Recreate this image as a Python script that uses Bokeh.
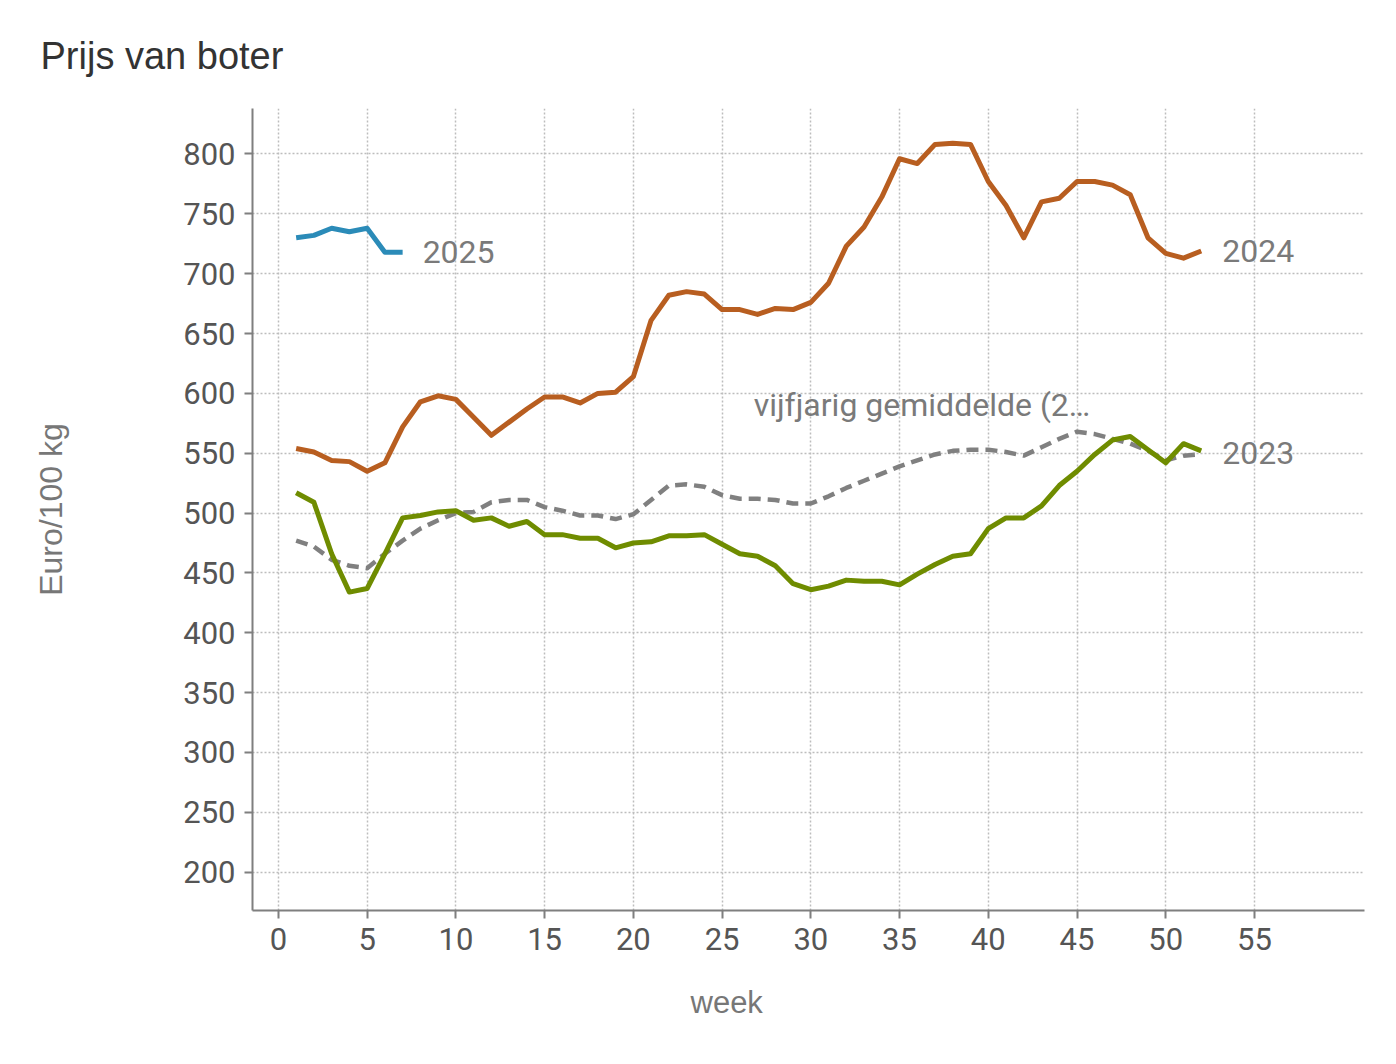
from bokeh.plotting import figure
from bokeh.models import Range1d, FixedTicker, Label, Title, LinearAxis
from bokeh.embed import file_html
from bokeh.resources import INLINE

# ---- data ----
weeks = list(range(1, 53))
weeks_2025 = list(range(1, 8))
prijs_2023 = [517, 509, 466, 434, 437, 466, 496, 498, 501, 502, 494, 496, 489, 493, 482, 482,
              479, 479, 471, 475, 476, 481, 481, 482, 474, 466, 464, 456, 441, 436, 439, 444,
              443, 443, 440, 449, 457, 464, 466, 487, 496, 496, 506, 523, 535, 549, 561, 564,
              553, 542, 558, 552]
prijs_2024 = [554, 551, 544, 543, 535, 542, 572, 593, 598, 595, 580, 565, 576, 587, 597, 597,
              592, 600, 601, 614, 661, 682, 685, 683, 670, 670, 666, 671, 670, 676, 692, 723,
              739, 764, 796, 792, 808, 809, 808, 777, 757, 730, 760, 763, 777, 777, 774, 766,
              730, 717, 713, 719]
prijs_2025 = [730, 732, 738, 735, 738, 718, 718]
gemiddelde = [477, 472, 461, 456, 454, 466, 477, 487, 494, 500, 501, 509, 511, 511, 505, 502,
              498, 498, 495, 499, 511, 523, 524, 522, 515, 512, 512, 511, 508, 508, 514, 521,
              527, 533, 539, 544, 549, 552, 553, 553, 551, 548, 555, 562, 568, 566, 562, 558,
              552, 544, 548, 549]
x_ticks = list(range(0, 60, 5))
y_ticks = list(range(200, 850, 50))
title_text = "Prijs van boter"
x_label = "week"
y_label = "Euro/100 kg"
avg_label = "vijfjarig gemiddelde (2\u2026"

# ---- styles ----
C2023 = "#6f8c00"
C2024 = "#b85e20"
C2025 = "#2b8bb8"
CAVG = "#808080"
LABEL_GRAY = "#7a7a7a"

p = figure(width=1396, height=1064, output_backend="svg", toolbar_location=None,
           x_range=Range1d(-1.46, 61.2), y_range=Range1d(168, 838),
           min_border_left=252, min_border_right=32, min_border_top=108, min_border_bottom=154)

p.outline_line_color = None
p.background_fill_color = "white"
p.border_fill_color = "white"

p.title.text = title_text
p.title.text_font = "Liberation Sans"
p.title.text_font_size = "38px"
p.title.text_font_style = "normal"
p.title.text_color = "#333333"
p.title.align = "left"
p.title.offset = -212
p.title.standoff = 63

for ax in (p.xaxis[0], p.yaxis[0]):
    ax.axis_line_color = "#7f7f7f"
    ax.axis_line_width = 2
    ax.major_tick_line_color = "#7f7f7f"
    ax.major_tick_line_width = 2
    ax.major_tick_in = 0
    ax.major_tick_out = 8
    ax.minor_tick_line_color = None
    ax.major_label_text_font = "Roboto"
    ax.major_label_text_font_size = "31px"
    ax.major_label_text_color = "#555555"
    ax.major_label_standoff = 9

p.xaxis.ticker = FixedTicker(ticks=x_ticks)
p.yaxis.ticker = FixedTicker(ticks=y_ticks)

for g in (p.xgrid[0], p.ygrid[0]):
    g.grid_line_color = "#bdbdbd"
    g.grid_line_width = 1.5
    g.grid_line_dash = "2 2"
p.xgrid.ticker = FixedTicker(ticks=x_ticks)
p.ygrid.ticker = FixedTicker(ticks=y_ticks)

# ---- axis titles ----
p.add_layout(Title(text=x_label, align="left", offset=438, standoff=60,
                   text_font="Liberation Sans", text_font_size="31px",
                   text_font_style="normal", text_color="#777777"), "below")

label_axis = LinearAxis(axis_label=y_label, bounds=(168, 792), ticker=FixedTicker(ticks=[]),
                        axis_line_color=None, major_tick_line_color=None,
                        minor_tick_line_color=None, major_tick_out=0, major_tick_in=0,
                        major_label_standoff=0, major_label_text_font_size="0px",
                        axis_label_standoff=112, axis_label_text_font="Liberation Sans",
                        axis_label_text_font_size="32px", axis_label_text_font_style="normal",
                        axis_label_text_color="#777777")
p.add_layout(label_axis, "left")

# ---- lines ----
p.line(weeks, gemiddelde, line_color=CAVG, line_width=4.5, line_dash="12 7")
p.line(weeks, prijs_2023, line_color=C2023, line_width=5, line_join="round")
p.line(weeks, prijs_2024, line_color=C2024, line_width=5, line_join="round")
p.line(weeks_2025, prijs_2025, line_color=C2025, line_width=5, line_join="round")

# ---- end labels ----
def end_label(x, y, text, dx, dy, align="left"):
    p.add_layout(Label(x=x, y=y, text=text, x_offset=dx, y_offset=dy,
                       text_font="Roboto", text_font_size="32px",
                       text_color=LABEL_GRAY, text_align=align, text_baseline="middle"))

end_label(weeks_2025[-1], prijs_2025[-1], "2025", 20, 0)
end_label(weeks[-1], prijs_2024[-1], "2024", 21, 0)
end_label(weeks[-1], prijs_2023[-1], "2023", 21, -2)
end_label(weeks[-1], gemiddelde[-1], avg_label, -111, 49, align="right")

open("out.html", "w").write(file_html(p, INLINE))
